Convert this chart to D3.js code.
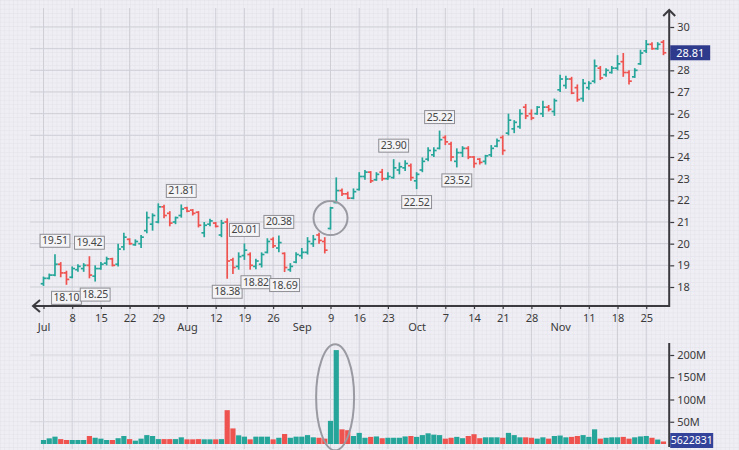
<!DOCTYPE html>
<html><head><meta charset="utf-8">
<script src="https://cdn.jsdelivr.net/npm/d3@7"></script>
<style>
html,body{margin:0;padding:0;background:#eeedf4;}
svg{display:block;font-family:"Noto Sans","Open Sans",sans-serif;}
</style></head>
<body><svg id="c" width="739" height="450"></svg>
<script>
// ---- data ----
const opens  = [18.15,18.40,18.55,19.05,18.65,18.45,18.80,18.85,19.00,18.50,18.85,19.10,19.30,19.05,19.85,20.20,19.95,20.00,20.60,20.90,
  21.00,21.70,21.40,21.00,21.30,21.65,21.55,21.45,20.50,20.90,20.95,20.40,21.00,19.25,18.95,19.45,19.50,18.95,19.05,19.60,
  20.20,19.80,19.55,18.80,19.15,19.45,19.60,20.00,20.40,20.10,20.70,21.90,22.45,22.30,22.10,22.50,23.10,23.30,22.95,23.30,
  23.00,23.05,23.40,23.50,23.60,22.90,23.40,23.90,24.10,24.40,24.90,24.60,23.80,24.20,24.40,24.00,23.90,23.80,24.10,24.50,
  24.90,25.10,25.30,25.40,26.30,26.00,26.00,26.00,26.30,26.10,27.10,27.30,27.60,27.20,26.70,27.20,27.50,28.10,27.80,27.90,
  28.10,28.40,27.90,27.70,28.30,28.90,29.20,29.00,29.30];
const highs  = [18.48,18.62,19.51,19.15,18.75,18.95,19.05,19.10,19.42,19.00,19.15,19.40,19.35,20.00,20.50,20.25,20.20,20.40,21.48,21.40,
  21.86,21.80,21.50,21.25,21.81,21.70,21.60,21.50,21.00,21.15,21.00,21.10,21.17,19.35,19.60,20.01,19.60,19.30,19.60,20.25,
  20.30,20.38,19.60,19.10,19.60,19.80,20.30,20.40,20.50,20.30,21.70,23.06,22.55,22.40,22.55,23.30,23.40,23.35,23.30,23.45,
  23.30,23.90,23.75,23.85,23.70,23.30,23.98,24.45,24.45,25.22,25.00,24.70,24.40,24.50,24.50,24.05,23.95,24.10,24.55,24.85,
  25.00,26.00,25.70,26.20,26.45,26.20,26.35,26.60,26.40,26.70,27.80,27.75,27.70,27.35,27.60,27.50,28.50,28.20,28.10,28.20,
  28.70,28.80,28.00,28.10,28.95,29.40,29.30,29.30,29.40];
const lows   = [18.05,18.35,18.50,18.45,18.10,18.40,18.70,18.70,18.40,18.25,18.80,19.00,18.95,18.95,19.70,19.95,19.90,19.80,20.48,20.60,
  20.94,21.17,20.80,20.90,21.20,21.45,21.30,20.75,20.30,20.80,20.75,20.30,18.38,18.60,18.80,19.25,18.80,18.82,18.90,19.55,
  19.80,19.60,18.69,18.70,19.10,19.30,19.50,19.85,20.00,19.55,20.65,21.86,22.20,22.05,22.05,22.45,22.95,22.80,22.90,22.90,
  22.95,23.00,23.20,23.35,22.90,22.52,23.30,23.80,24.00,24.35,24.55,23.80,23.52,24.00,23.90,23.50,23.65,23.65,24.00,24.45,
  24.10,25.00,25.10,25.30,25.75,25.70,25.95,25.85,26.10,25.90,27.00,27.15,26.90,26.55,26.55,27.10,27.40,27.55,27.70,27.85,
  28.00,27.70,27.35,27.65,28.25,28.80,28.95,28.95,28.70];
const closes = [18.40,18.55,19.05,18.65,18.35,18.85,18.95,19.00,18.55,18.85,19.05,19.30,19.00,19.75,20.30,20.00,20.10,20.30,21.20,21.30,
  21.70,21.30,20.95,21.20,21.60,21.50,21.40,20.85,20.85,21.05,20.80,20.95,19.20,18.90,19.40,19.70,19.00,19.20,19.50,20.10,
  19.90,20.05,18.90,18.95,19.50,19.60,20.10,20.20,20.15,19.70,21.65,22.45,22.30,22.10,22.40,23.10,23.30,22.90,23.20,23.00,
  23.10,23.50,23.55,23.70,23.05,23.20,23.80,24.30,24.30,24.80,24.70,24.00,24.20,24.40,24.00,23.70,23.75,24.05,24.40,24.75,
  24.30,25.70,25.60,26.00,25.90,25.80,26.30,26.30,26.20,26.60,27.60,27.60,26.95,26.65,27.40,27.40,28.20,27.65,28.00,28.10,
  28.30,27.90,27.50,28.00,28.80,29.20,29.00,29.20,28.81];
const volumes = [9,12.7,16.5,11,9,9,9,9,18,14,12,9,9,13,18,11,7.5,12,20,18,
  11,11,11,11,15,10.5,10.5,11,10.5,10.5,10.5,11,76,35,19.5,16.5,10.5,16.5,16.5,16.5,
  10.5,14,22.5,14,16.5,16.5,20,15,14,12,52,211,33,31,18,25,14,16,17,13,
  14,14,14,17,18,16,20,24,21,20,12,14,16,13,18,22,13,15,15,15,
  14,25,20,15,15,14,12,15,12,18,19,15,16,18,20,16,33,12,14,15,
  15,16,12,15,17,18,14,10,5.622831].map(v => v * 1e6);
const weekTickIdx = [0,5,10,15,20,25,30,35,40,45,50,55,60,65,70,75,80,85,90,95,100,105];
const weekTickLabels = ["Jul","8","15","22","29","Aug","12","19","26","Sep","9","16","23","Oct","7","14","21","28","Nov","11","18","25"];
const monthLabels = ["Jul","Aug","Sep","Oct","Nov"];
const priceTicks = [18,19,20,21,22,23,24,25,26,27,28,29,30];
const priceTickLabels = ["18","19","20","21","22","23","24","25","26","27","28","","30"];
const volTicks = [50e6,100e6,150e6,200e6];
const volTickLabels = ["50M","100M","150M","200M"];
const highNotes = [2,8,24,35,41,61,69];      // bar indexes with high labels
const lowNotes  = [4,9,32,37,42,65,72];      // bar indexes with low labels
const circleNote = {i:50, price:21.18};
const volEllipseNote = {i:50.8, vol:105e6};
const lastPriceLabel = "28.81";
const lastVolumeLabel = "5622831";

// ---- setup ----
const W = 739, H = 450;
const svg = d3.select("#c");
const UP = "#26a69a", DOWN = "#ef5350", AXIS = "#3b3b3f", TXT = "#3a3a3a";
const N = opens.length;
const x = d3.scaleLinear().domain([0, 109]).range([43.5, 669.2]);
const y = d3.scaleLinear().domain([18, 30]).range([287, 27]);
const yv = d3.scaleLinear().domain([0, 200e6]).range([444, 355]);
const axisX = x(109), baseY = 306;

// background paper pattern
const defs = svg.append("defs");
const pat = defs.append("pattern").attr("id","paper").attr("patternUnits","userSpaceOnUse")
  .attr("width", 4.34).attr("height", 4.34);
pat.append("rect").attr("width",4.34).attr("height",4.34).attr("fill","#efeef4");
pat.append("path").attr("d","M0,0.3H4.34M0.3,0V4.34").attr("stroke","#e3e2eb").attr("stroke-width",0.6);
svg.append("rect").attr("width",W).attr("height",H).attr("fill","url(#paper)");

// grid
const grid = svg.append("g");
grid.selectAll("line.v").data(weekTickIdx).join("line")
  .attr("x1", d => x(d)).attr("x2", d => x(d)).attr("y1", 8).attr("y2", 449)
  .attr("stroke", "#cfcfd8").attr("stroke-width", 1);
grid.selectAll("line.h").data(priceTicks).join("line")
  .attr("x1", 30).attr("x2", axisX).attr("y1", d => y(d)).attr("y2", d => y(d))
  .attr("stroke", "#cfcfd8").attr("stroke-width", 1);
grid.selectAll("line.hv").data(volTicks).join("line")
  .attr("x1", 30).attr("x2", axisX).attr("y1", d => yv(d)).attr("y2", d => yv(d))
  .attr("stroke", "#d6d6de").attr("stroke-width", 1);

// volume bars
const idx = d3.range(N);
svg.append("g").selectAll("rect").data(idx).join("rect")
  .attr("x", i => x(i) - 2.6).attr("width", 5.2)
  .attr("y", i => yv(volumes[i])).attr("height", i => yv(0) - yv(volumes[i]))
  .attr("fill", i => closes[i] >= opens[i] ? UP : DOWN);

// OHLC bars
const bars = svg.append("g").attr("stroke-width", 1.7).attr("stroke-linecap","butt");
const bg = bars.selectAll("g").data(idx).join("g")
  .attr("stroke", i => closes[i] >= opens[i] ? UP : DOWN);
bg.append("line").attr("x1", i => x(i)).attr("x2", i => x(i))
  .attr("y1", i => y(highs[i])).attr("y2", i => y(lows[i]));
bg.append("line").attr("x1", i => x(i) - 2.8).attr("x2", i => x(i))
  .attr("y1", i => y(opens[i])).attr("y2", i => y(opens[i]));
bg.append("line").attr("x1", i => x(i)).attr("x2", i => x(i) + 2.8)
  .attr("y1", i => y(closes[i])).attr("y2", i => y(closes[i]));

// notes
function noteBox(g, cx, top, label) {
  const t = g.append("text").attr("x", cx).attr("y", top + 10).attr("text-anchor","middle")
    .attr("font-size", 10.5).attr("fill", "#444").attr("letter-spacing", -0.2).text(label);
  const w = t.node().getComputedTextLength() + 4;
  g.insert("rect","text").attr("x", cx - w/2).attr("y", top).attr("width", w).attr("height", 13)
    .attr("fill", "#f4f4f7").attr("stroke", "#8d8d93").attr("stroke-width", 1);
}
const notes = svg.append("g");
highNotes.forEach(i => noteBox(notes.append("g"), x(i), y(highs[i]) - 20, highs[i].toFixed(2)));
lowNotes.forEach(i => noteBox(notes.append("g"), x(i), y(lows[i]) + 6.5, lows[i].toFixed(2)));

// circle annotations
svg.append("circle").attr("cx", x(circleNote.i)).attr("cy", y(circleNote.price)).attr("r", 17)
  .attr("fill","none").attr("stroke","#9a9aa3").attr("stroke-width", 2);
svg.append("ellipse").attr("cx", x(volEllipseNote.i)).attr("cy", yv(volEllipseNote.vol))
  .attr("rx", 19).attr("ry", 53).attr("fill","none").attr("stroke","#9a9aa3").attr("stroke-width", 2);

// x axis
const xa = svg.append("g").attr("transform", `translate(0,${baseY})`);
xa.append("line").attr("x1", 33).attr("x2", axisX).attr("stroke", AXIS).attr("stroke-width", 2);
xa.append("path").attr("d", "M40,-6L33,0L40,6").attr("fill","none").attr("stroke", AXIS).attr("stroke-width", 2);
const xAxis = d3.axisBottom(x).tickValues(weekTickIdx).tickSize(4).tickPadding(3)
  .tickFormat((d, k) => weekTickLabels[k]);
const xg = svg.append("g").attr("transform", `translate(0,${baseY - 1})`).call(xAxis);
xg.select(".domain").remove();
xg.selectAll(".tick line").attr("stroke", AXIS).attr("stroke-width", 1.2);
xg.selectAll(".tick text").attr("font-size", 11).attr("fill", TXT).attr("font-family", "Noto Sans, sans-serif")
  .attr("dy", (d, k) => monthLabels.includes(weekTickLabels[k]) ? "1.75em" : "0.95em");

// price axis
const ya = svg.append("g");
ya.append("line").attr("x1", axisX).attr("x2", axisX).attr("y1", 10).attr("y2", baseY + 1)
  .attr("stroke", AXIS).attr("stroke-width", 2);
ya.append("path").attr("d", `M${axisX-6},16L${axisX},10L${axisX+6},16`).attr("fill","none")
  .attr("stroke", AXIS).attr("stroke-width", 2);
const yAxis = d3.axisRight(y).tickValues(priceTicks).tickSize(4).tickPadding(3)
  .tickFormat((d, k) => priceTickLabels[k]);
const yg = svg.append("g").attr("transform", `translate(${axisX + 1},0)`).call(yAxis);
yg.select(".domain").remove();
yg.selectAll(".tick line").attr("stroke", AXIS).attr("stroke-width", 1.2);
yg.selectAll(".tick text").attr("font-size", 11).attr("fill", TXT).attr("font-family", "Noto Sans, sans-serif");
yg.selectAll(".tick").filter((d, k) => priceTickLabels[k] === "").select("line").remove();

// last price label
const lp = svg.append("g").attr("transform", `translate(${axisX + 1},${y(closes[N-1])})`);
lp.append("rect").attr("x", 0).attr("y", -7.5).attr("width", 40).attr("height", 15).attr("fill", "#2e3b8c");
lp.append("text").attr("x", 20).attr("y", 4).attr("text-anchor","middle").attr("font-size", 11)
  .attr("fill", "#fff").text(lastPriceLabel);

// volume axis
const va = svg.append("g");
va.append("line").attr("x1", axisX).attr("x2", axisX).attr("y1", 343).attr("y2", 447)
  .attr("stroke", AXIS).attr("stroke-width", 2);
const vAxis = d3.axisRight(yv).tickValues(volTicks).tickSize(4).tickPadding(3)
  .tickFormat((d, k) => volTickLabels[k]);
const vg = svg.append("g").attr("transform", `translate(${axisX + 1},0)`).call(vAxis);
vg.select(".domain").remove();
vg.selectAll(".tick line").attr("stroke", AXIS).attr("stroke-width", 1.2);
vg.selectAll(".tick text").attr("font-size", 11).attr("fill", TXT).attr("font-family", "Noto Sans, sans-serif");
const lv = svg.append("g").attr("transform", `translate(${axisX + 1},${yv(volumes[N-1]) - 1})`);
lv.append("rect").attr("x", 0).attr("y", -7.5).attr("width", 43).attr("height", 15).attr("fill", "#33439a");
lv.append("text").attr("x", 21.5).attr("y", 4).attr("text-anchor","middle").attr("font-size", 10.5)
  .attr("fill", "#fff").text(lastVolumeLabel);
</script></body></html>
